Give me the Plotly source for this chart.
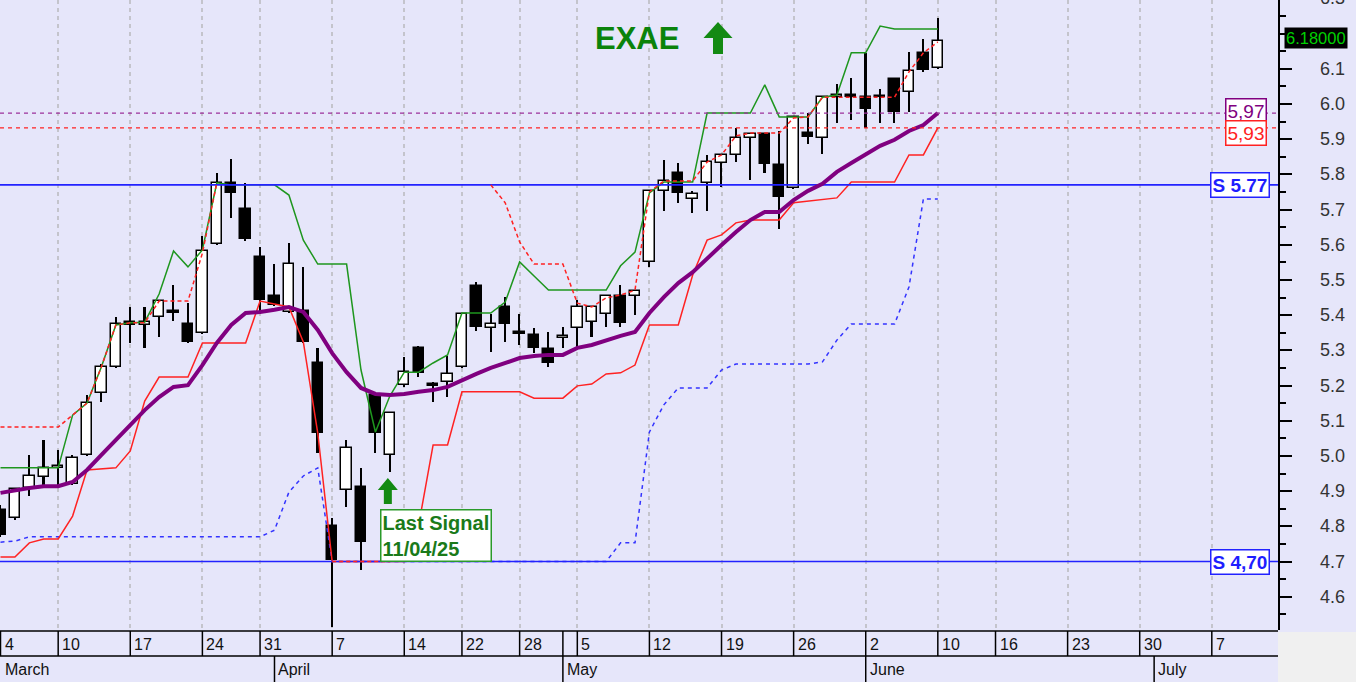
import plotly.graph_objects as go

# ---------------- data ----------------
dates = [
    "2025-03-04", "2025-03-05", "2025-03-06", "2025-03-07",
    "2025-03-10", "2025-03-11", "2025-03-12", "2025-03-13", "2025-03-14",
    "2025-03-17", "2025-03-18", "2025-03-19", "2025-03-20", "2025-03-21",
    "2025-03-24", "2025-03-26", "2025-03-27", "2025-03-28",
    "2025-03-31", "2025-04-01", "2025-04-02", "2025-04-03", "2025-04-04",
    "2025-04-07", "2025-04-08", "2025-04-09", "2025-04-10", "2025-04-11",
    "2025-04-14", "2025-04-15", "2025-04-16", "2025-04-17",
    "2025-04-22", "2025-04-23", "2025-04-24", "2025-04-25",
    "2025-04-28", "2025-04-29", "2025-04-30", "2025-05-02",
    "2025-05-05", "2025-05-06", "2025-05-07", "2025-05-08", "2025-05-09",
    "2025-05-12", "2025-05-13", "2025-05-14", "2025-05-15", "2025-05-16",
    "2025-05-19", "2025-05-20", "2025-05-21", "2025-05-22", "2025-05-23",
    "2025-05-26", "2025-05-27", "2025-05-28", "2025-05-29", "2025-05-30",
    "2025-06-02", "2025-06-03", "2025-06-04", "2025-06-05", "2025-06-06",
    "2025-06-10",
]

open_ = [4.846, 4.824, 4.909, 4.940, 4.965, 4.920, 5.003, 5.179, 5.253, 5.380,
         5.372, 5.395, 5.412, 5.375, 5.349, 5.602, 5.776, 5.701, 5.565, 5.454,
         5.410, 5.412, 5.264, 4.801, 4.903, 4.912, 5.173, 5.003, 5.201, 5.307,
         5.203, 5.210, 5.253, 5.483, 5.363, 5.423, 5.351, 5.343, 5.304, 5.336,
         5.363, 5.380, 5.403, 5.454, 5.454, 5.551, 5.753, 5.804, 5.730, 5.776,
         5.832, 5.855, 5.903, 5.915, 5.826, 5.761, 5.917, 5.903, 6.019, 6.024,
         6.019, 6.022, 6.071, 6.034, 6.145, 6.102]
high = [4.860, 4.910, 5.003, 5.045, 5.017, 5.003, 5.173, 5.260, 5.395, 5.423,
        5.423, 5.443, 5.486, 5.434, 5.625, 5.804, 5.843, 5.776, 5.593, 5.545,
        5.605, 5.537, 5.307, 4.824, 5.045, 4.966, 5.182, 5.125, 5.281, 5.312,
        5.210, 5.284, 5.405, 5.494, 5.403, 5.451, 5.403, 5.363, 5.352, 5.366,
        5.443, 5.426, 5.457, 5.486, 5.470, 5.756, 5.841, 5.832, 5.753, 5.855,
        5.857, 5.932, 5.917, 5.917, 5.923, 5.965, 5.974, 6.020, 6.057, 6.074,
        6.145, 6.042, 6.072, 6.147, 6.184, 6.244]
low = [4.770, 4.818, 4.886, 4.914, 4.917, 4.917, 5.000, 5.153, 5.250, 5.321,
       5.307, 5.338, 5.383, 5.320, 5.345, 5.600, 5.676, 5.610, 5.409, 5.425,
       5.406, 5.320, 5.008, 4.514, 4.855, 4.676, 5.008, 4.954, 5.195, 5.224,
       5.153, 5.167, 5.250, 5.355, 5.295, 5.324, 5.315, 5.292, 5.253, 5.307,
       5.309, 5.338, 5.366, 5.366, 5.400, 5.537, 5.696, 5.719, 5.690, 5.696,
       5.764, 5.835, 5.784, 5.804, 5.645, 5.758, 5.886, 5.858, 5.946, 5.954,
       5.932, 5.946, 5.946, 5.977, 6.090, 6.100]
close = [4.775, 4.906, 4.943, 4.966, 4.970, 4.994, 5.150, 5.253, 5.375, 5.372,
         5.380, 5.440, 5.406, 5.324, 5.582, 5.776, 5.747, 5.616, 5.443, 5.429,
         5.545, 5.324, 5.065, 4.704, 5.022, 4.755, 5.065, 5.122, 5.238, 5.236,
         5.199, 5.233, 5.403, 5.366, 5.375, 5.375, 5.347, 5.307, 5.264, 5.340,
         5.423, 5.423, 5.454, 5.378, 5.468, 5.753, 5.781, 5.747, 5.744, 5.835,
         5.855, 5.903, 5.915, 5.829, 5.736, 5.963, 5.906, 6.019, 6.024, 6.019,
         5.986, 6.019, 5.977, 6.093, 6.096, 6.180]

# moving average (purple)
ma = [4.895, 4.903, 4.909, 4.914, 4.914, 4.926, 4.960, 5.003, 5.045, 5.088,
      5.130, 5.167, 5.196, 5.201, 5.258, 5.321, 5.372, 5.406, 5.409, 5.415,
      5.423, 5.409, 5.358, 5.292, 5.238, 5.193, 5.176, 5.173, 5.176, 5.182,
      5.187, 5.196, 5.216, 5.233, 5.250, 5.264, 5.278, 5.284, 5.287, 5.287,
      5.307, 5.315, 5.329, 5.341, 5.352, 5.406, 5.451, 5.491, 5.522, 5.562,
      5.599, 5.636, 5.670, 5.693, 5.693, 5.727, 5.753, 5.773, 5.807, 5.832,
      5.855, 5.881, 5.898, 5.923, 5.940, 5.974]
# upper channel (green)
upper = [4.966, 4.966, 4.966, 4.966, 4.966, 5.116, 5.150, 5.253, 5.372, 5.378,
         5.380, 5.460, 5.582, 5.537, 5.585, 5.776, 5.770, 5.770, 5.770, 5.770,
         5.741, 5.613, 5.545, 5.545, 5.545, 5.244, 5.068, 5.170, 5.238, 5.238,
         5.264, 5.287, 5.406, 5.406, 5.406, 5.437, 5.551, 5.511, 5.471, 5.471,
         5.471, 5.471, 5.471, 5.540, 5.579, 5.747, 5.778, 5.778, 5.778, 5.974,
         5.974, 5.974, 5.974, 6.054, 5.963, 5.963, 5.963, 6.019, 6.025, 6.145,
         6.145, 6.221, 6.213, 6.213, 6.213, 6.213]
# lower channel (red solid)
lower = [4.713, 4.713, 4.753, 4.764, 4.764, 4.829, 4.960, 4.963, 4.966, 5.014,
         5.156, 5.224, 5.224, 5.224, 5.321, 5.321, 5.321, 5.321, 5.440, 5.432,
         5.423, 5.324, 5.065, 4.700, 4.700, 4.700, 4.700, 4.700, 4.700, 4.804,
         5.031, 5.031, 5.182, 5.182, 5.182, 5.182, 5.182, 5.164, 5.164, 5.164,
         5.199, 5.204, 5.233, 5.236, 5.258, 5.372, 5.372, 5.372, 5.514, 5.613,
         5.628, 5.662, 5.670, 5.670, 5.670, 5.719, 5.724, 5.730, 5.733, 5.778,
         5.778, 5.778, 5.778, 5.855, 5.855, 5.932]
# trailing line (red dashed)
trail = [5.082, 5.082, 5.082, 5.082, 5.082, 5.116, 5.150, 5.253, 5.372, 5.378,
         5.378, 5.440, 5.440, 5.440, 5.576, 5.776, None, None, None, None,
         None, None, None, 4.700, 4.700, 4.700, 4.700, 4.700, None, None,
         None, None, None, None, 5.770, 5.719, 5.608, 5.545, 5.545, 5.545,
         5.434, 5.423, 5.449, 5.457, 5.471, 5.750, 5.781, 5.781, 5.781, 5.835,
         5.855, 5.909, 5.917, 5.917, 5.917, 5.960, 5.963, 6.019, 6.019, 6.019,
         6.019, 6.019, 6.019, 6.091, 6.145, 6.176]
# stop line (blue dashed)
stop = [4.755, 4.758, 4.770, 4.770, 4.770, 4.770, 4.770, 4.770, 4.770, 4.770,
        4.770, 4.770, 4.770, 4.770, 4.770, 4.770, 4.770, 4.770, 4.770, 4.789,
        4.897, 4.943, 4.966, 4.700, 4.700, 4.700, 4.700, 4.700, 4.700, 4.700,
        4.700, 4.700, 4.700, 4.700, 4.700, 4.700, 4.700, 4.700, 4.700, 4.700,
        4.700, 4.700, 4.700, 4.753, 4.753, 5.068, 5.145, 5.193, 5.193, 5.193,
        5.244, 5.261, 5.261, 5.261, 5.261, 5.261, 5.261, 5.267, 5.329, 5.375,
        5.375, 5.375, 5.375, 5.480, 5.730, 5.730]

support_levels = [5.77, 4.70]
support_labels = ["S 5.77", "S 4,70"]

tick_idx = [0, 4, 9, 14, 18, 23, 28, 32, 36, 40, 45, 50, 55, 60, 65, 69, 74, 79, 84]
tick_text = ["4", "10", "17", "24", "31", "7", "14", "22", "28", "5", "12", "19",
             "26", "2", "10", "16", "23", "30", "7"]
month_idx = [0, 19, 39, 60, 80]
month_names = ["March", "April", "May", "June", "July"]
price_ticks = [4.6, 4.7, 4.8, 4.9, 5.0, 5.1, 5.2, 5.3, 5.4, 5.5, 5.6, 5.7, 5.8,
               5.9, 6.0, 6.1, 6.2, 6.3]

signal_date = "2025-04-11"
ticker = "EXAE"

# ---------------- layout constants ----------------
W, H = 1356, 682
PW, PH = 1278, 630
X0, X1 = -0.0347, 88.59
Y0, Y1 = 4.5054, 6.2952
FONT = "Liberation Sans, Arial, sans-serif"
BG = "#E6E6FA"
PRICE_BOX_SHIFT = 3


def px_x(p):
    return X0 + p / PW * (X1 - X0)


def py(p):
    return -(p - PH) / PH


def val_paper(v):
    return (v - Y0) / (Y1 - Y0)


def val_px(v):
    return PH * (1 - val_paper(v))


idx = list(range(len(dates)))
body_base = [min(o, c) for o, c in zip(open_, close)]
body_h = [max(abs(c - o), 0.004) for o, c in zip(open_, close)]
body_col = ["white" if c >= o else "black" for o, c in zip(open_, close)]

fig = go.Figure()

# wicks
fig.add_trace(go.Bar(x=idx, base=low, y=[h - l for h, l in zip(high, low)],
                     width=0.11, marker=dict(color="black", line=dict(width=0)),
                     hoverinfo="skip"))
# bodies
fig.add_trace(go.Bar(x=idx, base=body_base, y=body_h, width=0.72,
                     marker=dict(color=body_col, line=dict(color="black", width=1.5)),
                     hoverinfo="skip"))

fig.add_trace(go.Scatter(x=idx, y=stop, mode="lines",
                         line=dict(color="#3333FF", width=1.5, dash="4px,4px")))
fig.add_trace(go.Scatter(x=idx, y=lower, mode="lines",
                         line=dict(color="#FF2222", width=1.5)))
fig.add_trace(go.Scatter(x=idx, y=upper, mode="lines",
                         line=dict(color="#1E961E", width=1.5)))
for lvl in support_levels:
    fig.add_trace(go.Scatter(x=[X0, X1], y=[lvl, lvl], mode="lines",
                             line=dict(color="#2222FF", width=1.6)))
fig.add_trace(go.Scatter(x=idx, y=trail, mode="lines", connectgaps=False,
                         line=dict(color="#FF2222", width=1.5, dash="4px,3px")))
fig.add_trace(go.Scatter(x=idx, y=ma, mode="lines",
                         line=dict(color="#800080", width=4)))
fig.add_trace(go.Scatter(x=[X0, X1], y=[ma[-1], ma[-1]], mode="lines",
                         line=dict(color="#9B309B", width=1.2, dash="4px,4px")))
fig.add_trace(go.Scatter(x=[X0, X1], y=[lower[-1], lower[-1]], mode="lines",
                         line=dict(color="#FF2222", width=1.2, dash="4px,4px")))

annotations = []
# price axis labels (the one hidden behind the last-price box is left out)
box_px = val_px(close[-1]) - PRICE_BOX_SHIFT
for v in price_ticks:
    if abs(val_px(v) - box_px) < 14:
        continue
    annotations.append(dict(x=1347 / PW, xref="paper", y=val_paper(v), yref="paper",
                            text="%.1f" % v, showarrow=False, xanchor="right",
                            yanchor="middle",
                            font=dict(family=FONT, size=18, color="#333333")))
for i, t in zip(tick_idx, tick_text):
    annotations.append(dict(x=i, xref="x", y=py(644), yref="paper", text=t,
                            showarrow=False, xanchor="left", yanchor="middle", xshift=2,
                            font=dict(family=FONT, size=16, color="#111111")))
for i, m in zip(month_idx, month_names):
    annotations.append(dict(x=max(i, X0), xref="x", y=py(669), yref="paper", text=m,
                            showarrow=False, xanchor="left", yanchor="middle", xshift=2,
                            font=dict(family=FONT, size=16, color="#111111")))

annotations.append(dict(x=637 / PW, xref="paper", y=1 - 38 / PH, yref="paper",
                        xanchor="center", yanchor="middle",
                        text="<b>%s</b>" % ticker, showarrow=False,
                        font=dict(family=FONT, size=31, color="#0B830B")))

sig = dates.index(signal_date)
y4, m4, d4 = signal_date.split("-")
annotations.append(dict(x=sig - 0.68, xref="x", y=support_levels[1], yref="y",
                        xanchor="left", yanchor="bottom", align="left",
                        text="<b>Last Signal<br>%s/%s/%s</b>" % (d4, m4, y4[2:]),
                        showarrow=False, bgcolor="white", bordercolor="#2A9A2A",
                        borderwidth=1.5, borderpad=1,
                        font=dict(family=FONT, size=20, color="#1A7A1A")))

for lvl, lab in zip(support_levels, support_labels):
    annotations.append(dict(x=px_x(1240), xref="x", y=lvl, yref="y", text="<b>%s</b>" % lab,
                            showarrow=False, bgcolor="white", bordercolor="#2222FF",
                            borderwidth=1.5, borderpad=1, xanchor="center", yanchor="middle",
                            font=dict(family=FONT, size=19, color="#1E1EFF")))

annotations.append(dict(x=px_x(1245.5), xref="x", y=ma[-1], yref="y", yshift=2,
                        xanchor="center", yanchor="middle",
                        text=("%.2f" % ma[-1]).replace(".", ","), showarrow=False,
                        bgcolor="white", bordercolor="#800080", borderwidth=1.5, borderpad=1,
                        font=dict(family=FONT, size=19, color="#800080")))
annotations.append(dict(x=px_x(1245.5), xref="x", y=lower[-1], yref="y", yshift=-5,
                        xanchor="center", yanchor="middle",
                        text=("%.2f" % lower[-1]).replace(".", ","), showarrow=False,
                        bgcolor="white", bordercolor="#FF2222", borderwidth=1.5, borderpad=1,
                        font=dict(family=FONT, size=19, color="#FF2222")))
annotations.append(dict(x=1316 / PW, xref="paper", y=val_paper(close[-1]), yref="paper",
                        yshift=PRICE_BOX_SHIFT, xanchor="center", yanchor="middle",
                        text="%.5f" % close[-1], showarrow=False, bgcolor="black",
                        borderpad=1, font=dict(family=FONT, size=16.5, color="#00D000")))

shapes = []
# axis rows
for yy in (631, 656):
    shapes.append(dict(type="line", xref="paper", yref="paper", x0=0, x1=1,
                       y0=py(yy), y1=py(yy), line=dict(color="black", width=1.5)))
for i in tick_idx + [month_idx[2]]:
    shapes.append(dict(type="line", xref="x", yref="paper", x0=i, x1=i,
                       y0=py(631), y1=py(656), line=dict(color="black", width=1.5)))
for i in month_idx[1:]:
    shapes.append(dict(type="line", xref="x", yref="paper", x0=i, x1=i,
                       y0=py(656), y1=py(682), line=dict(color="black", width=1.5)))
shapes.append(dict(type="rect", xref="paper", yref="paper", x0=1, x1=W / PW,
                   y0=py(H), y1=py(632), fillcolor="#F0F0F0", line=dict(width=0)))
# big arrow next to the ticker
shapes.append(dict(type="path", xref="paper", yref="paper", xsizemode="pixel",
                   ysizemode="pixel", xanchor=718 / PW, yanchor=1 - 38 / PH,
                   path="M -14.5,0 L 0,16 L 14.5,0 L 5,0 L 5,-16 L -5,-16 L -5,0 Z",
                   fillcolor="#138A13", line=dict(width=0)))
# signal arrow under the signal candle
shapes.append(dict(type="path", xref="x", yref="y", xsizemode="pixel",
                   ysizemode="pixel", xanchor=sig, yanchor=low[sig],
                   path="M -12,-18 L -2,-6 L 8,-18 L 2,-18 L 2,-32 L -6,-32 L -6,-18 Z",
                   fillcolor="#138A13", line=dict(width=0)))

fig.update_layout(
    width=W, height=H, margin=dict(l=0, r=W - PW, t=0, b=H - PH, pad=0),
    paper_bgcolor=BG, plot_bgcolor=BG, barmode="overlay", bargap=0,
    showlegend=False, annotations=annotations, shapes=shapes,
    xaxis=dict(range=[X0, X1], tickvals=tick_idx, showticklabels=False, ticks="",
               showgrid=True, gridcolor="#C4C4CC", gridwidth=1.5, griddash="4px,4px",
               zeroline=False, showline=False, fixedrange=True),
    yaxis=dict(range=[Y0, Y1], side="right", dtick=0.1, tick0=4.6,
               ticks="outside", ticklen=12, tickwidth=1.5, tickcolor="black",
               showline=True, linecolor="black", linewidth=1.5, showgrid=False,
               zeroline=False, showticklabels=False,
               minor=dict(dtick=0.05, ticks="outside", ticklen=6, tickwidth=1.5,
                          tickcolor="black", showgrid=False),
               fixedrange=True),
)

fig.write_html("out.html", config={"displayModeBar": False},
               post_script="document.body.style.margin='0';")
